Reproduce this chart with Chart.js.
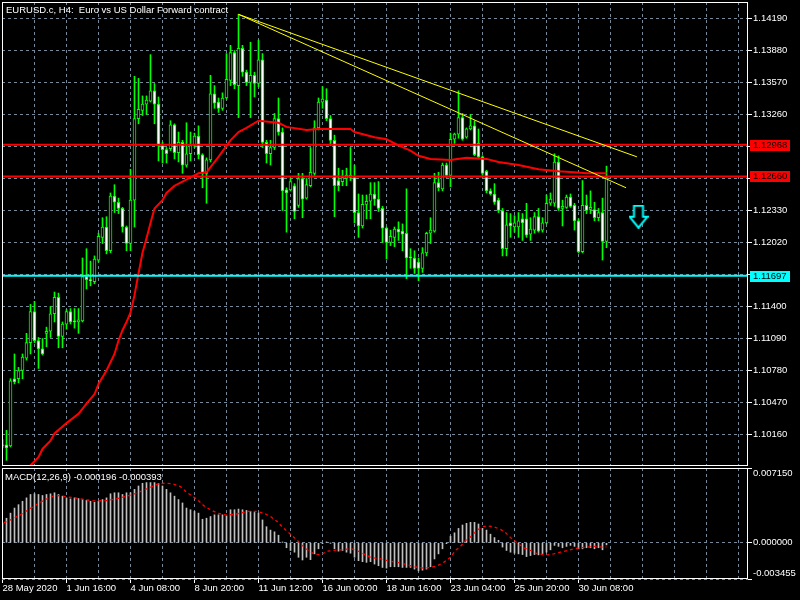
<!DOCTYPE html>
<html>
<head>
<meta charset="utf-8">
<title>EURUSD.c H4</title>
<script src="https://cdn.jsdelivr.net/npm/chart.js@4.4.1/dist/chart.umd.min.js"></script>
<style>
    html, body { margin: 0; padding: 0; background: #000; }
    #wrap { position: relative; width: 800px; height: 600px; overflow: hidden; background: #000; }
    #priceChart { position: absolute; left: 0; top: 0; }
    #macdChart { position: absolute; left: 0; top: 455px; }
    .caption { position: absolute; color: #fff; font: 9.5px "Liberation Sans", Arial, sans-serif; white-space: pre; line-height: 12px; }
</style>
</head>
<body>
<div id="wrap">
    <canvas id="priceChart" width="800" height="467"></canvas>
    <canvas id="macdChart" width="800" height="145"></canvas>
    <div class="caption" style="left:6px; top:4px;">EURUSD.c, H4:  Euro vs US Dollar Forward contract</div>
    <div class="caption" style="left:5px; top:471px;">MACD(12,26,9) -0.000196 -0.000393</div>
</div>
<script>
/* ---- price bars (H4), index 0 = 28 May 2020 00:00 ---- */
const open = [
    1.1005, 1.1006, 1.1005, 1.1070, 1.1070, 1.1078, 1.1090, 1.1105, 1.1135, 1.1107,
    1.1099, 1.1114, 1.1116, 1.1133, 1.1149, 1.1111, 1.1123, 1.1135, 1.1126, 1.1125,
    1.1126, 1.1169, 1.1166, 1.1164, 1.1185, 1.1207, 1.1217, 1.1194, 1.1247, 1.1241,
    1.1235, 1.1217, 1.1201, 1.1243, 1.1322, 1.1330, 1.1336, 1.1339, 1.1349, 1.1336,
    1.1296, 1.1292, 1.1293, 1.1316, 1.1289, 1.1299, 1.1277, 1.1288, 1.1296, 1.1305,
    1.1287, 1.1269, 1.1282, 1.1346, 1.1338, 1.1332, 1.1342, 1.1359, 1.1386, 1.1354,
    1.1390, 1.1367, 1.1357, 1.1364, 1.1356, 1.1379, 1.1299, 1.1288, 1.1294, 1.1322,
    1.1309, 1.1253, 1.1253, 1.1257, 1.1238, 1.1264, 1.1245, 1.1257, 1.1269, 1.1313,
    1.1338, 1.1340, 1.1322, 1.1301, 1.1262, 1.1261, 1.1264, 1.1267, 1.1265, 1.1231,
    1.1218, 1.1239, 1.1242, 1.1249, 1.1244, 1.1235, 1.1216, 1.1202, 1.1207, 1.1215,
    1.1213, 1.1211, 1.1188, 1.1187, 1.1183, 1.1177, 1.1192, 1.1211, 1.1213, 1.1260,
    1.1254, 1.1277, 1.1267, 1.1302, 1.1307, 1.1323, 1.1304, 1.1312, 1.1315, 1.1298,
    1.1285, 1.1271, 1.1252, 1.1249, 1.1243, 1.1233, 1.1196, 1.1221, 1.1217, 1.1217,
    1.1225, 1.1225, 1.1210, 1.1214, 1.1227, 1.1214, 1.1221, 1.1240, 1.1240, 1.1280,
    1.1235, 1.1236, 1.1246, 1.1238, 1.1223, 1.1193, 1.1238, 1.1234, 1.1234, 1.1226,
    1.1231, 1.1203
];
const high = [
    1.1011, 1.1020, 1.1070, 1.1094, 1.1081, 1.1094, 1.1114, 1.1142, 1.1145, 1.1110,
    1.1109, 1.1120, 1.1140, 1.1154, 1.1153, 1.1125, 1.1137, 1.1138, 1.1138, 1.1138,
    1.1187, 1.1196, 1.1184, 1.1189, 1.1211, 1.1226, 1.1227, 1.1250, 1.1258, 1.1245,
    1.1236, 1.1218, 1.1273, 1.1363, 1.1361, 1.1344, 1.1344, 1.1384, 1.1356, 1.1343,
    1.1299, 1.1294, 1.1320, 1.1317, 1.1309, 1.1301, 1.1318, 1.1309, 1.1308, 1.1315,
    1.1288, 1.1284, 1.1364, 1.1354, 1.1342, 1.1347, 1.1385, 1.1393, 1.1388, 1.1423,
    1.1393, 1.1369, 1.1396, 1.1367, 1.1398, 1.1385, 1.1301, 1.1301, 1.1327, 1.1342,
    1.1313, 1.1255, 1.1264, 1.1259, 1.1269, 1.1269, 1.1264, 1.1294, 1.1320, 1.1342,
    1.1353, 1.1351, 1.1325, 1.1306, 1.1274, 1.1272, 1.1274, 1.1294, 1.1277, 1.1249,
    1.1248, 1.1248, 1.1260, 1.1260, 1.1261, 1.1237, 1.1217, 1.1214, 1.1217, 1.1222,
    1.1220, 1.1254, 1.1196, 1.1194, 1.1187, 1.1197, 1.1212, 1.1226, 1.1269, 1.1270,
    1.1279, 1.1279, 1.1308, 1.1308, 1.1349, 1.1327, 1.1313, 1.1326, 1.1320, 1.1312,
    1.1286, 1.1272, 1.1254, 1.1259, 1.1245, 1.1235, 1.1231, 1.1230, 1.1228, 1.1231,
    1.1230, 1.1240, 1.1226, 1.1231, 1.1235, 1.1226, 1.1248, 1.1250, 1.1288, 1.1286,
    1.1243, 1.1248, 1.1249, 1.1240, 1.1225, 1.1262, 1.1248, 1.1252, 1.1241, 1.1235,
    1.1245, 1.1276
];
const low = [
    1.1003, 1.0991, 1.1004, 1.1065, 1.1066, 1.1070, 1.1088, 1.1094, 1.1105, 1.1080,
    1.1093, 1.1101, 1.1110, 1.1125, 1.1100, 1.1100, 1.1118, 1.1123, 1.1119, 1.1114,
    1.1125, 1.1157, 1.1160, 1.1162, 1.1183, 1.1201, 1.1191, 1.1192, 1.1231, 1.1230,
    1.1212, 1.1194, 1.1194, 1.1217, 1.1317, 1.1325, 1.1326, 1.1338, 1.1317, 1.1281,
    1.1279, 1.1279, 1.1291, 1.1283, 1.1280, 1.1269, 1.1275, 1.1281, 1.1294, 1.1283,
    1.1255, 1.1240, 1.1280, 1.1332, 1.1328, 1.1330, 1.1341, 1.1354, 1.1351, 1.1323,
    1.1363, 1.1354, 1.1323, 1.1343, 1.1353, 1.1294, 1.1279, 1.1277, 1.1292, 1.1306,
    1.1233, 1.1212, 1.1252, 1.1225, 1.1236, 1.1226, 1.1244, 1.1256, 1.1267, 1.1311,
    1.1332, 1.1320, 1.1296, 1.1227, 1.1252, 1.1257, 1.1257, 1.1262, 1.1221, 1.1207,
    1.1216, 1.1225, 1.1225, 1.1238, 1.1232, 1.1202, 1.1186, 1.1199, 1.1198, 1.1204,
    1.1194, 1.1167, 1.1177, 1.1172, 1.1165, 1.1173, 1.1189, 1.1201, 1.1212, 1.1252,
    1.1252, 1.1265, 1.1256, 1.1298, 1.1303, 1.1301, 1.1303, 1.1311, 1.1286, 1.1283,
    1.1267, 1.1250, 1.1248, 1.1239, 1.1231, 1.1189, 1.1189, 1.1207, 1.1212, 1.1207,
    1.1204, 1.1207, 1.1204, 1.1211, 1.1212, 1.1212, 1.1220, 1.1238, 1.1237, 1.1233,
    1.1218, 1.1235, 1.1236, 1.1214, 1.1192, 1.1192, 1.1230, 1.1230, 1.1223, 1.1223,
    1.1185, 1.1197
];
const close = [
    1.1006, 1.1003, 1.1068, 1.1067, 1.1078, 1.1091, 1.1105, 1.1135, 1.1107, 1.1099,
    1.1094, 1.1116, 1.1133, 1.1149, 1.1111, 1.1123, 1.1135, 1.1125, 1.1125, 1.1127,
    1.1169, 1.1166, 1.1165, 1.1186, 1.1208, 1.1217, 1.1194, 1.1247, 1.1241, 1.1235,
    1.1217, 1.1201, 1.1243, 1.1322, 1.1331, 1.1336, 1.1340, 1.1349, 1.1336, 1.1296,
    1.1292, 1.1288, 1.1316, 1.1289, 1.1299, 1.1277, 1.1288, 1.1296, 1.1305, 1.1287,
    1.1269, 1.1282, 1.1346, 1.1337, 1.1332, 1.1342, 1.1360, 1.1386, 1.1355, 1.1390,
    1.1367, 1.1357, 1.1364, 1.1356, 1.1379, 1.1299, 1.1288, 1.1294, 1.1322, 1.1309,
    1.1252, 1.1250, 1.1261, 1.1232, 1.1264, 1.1244, 1.1258, 1.1270, 1.1313, 1.1338,
    1.1341, 1.1322, 1.1301, 1.1257, 1.1257, 1.1265, 1.1267, 1.1265, 1.1231, 1.1218,
    1.1239, 1.1242, 1.1249, 1.1244, 1.1235, 1.1216, 1.1202, 1.1208, 1.1215, 1.1212,
    1.1210, 1.1187, 1.1187, 1.1177, 1.1177, 1.1192, 1.1211, 1.1214, 1.1260, 1.1255,
    1.1277, 1.1267, 1.1302, 1.1307, 1.1323, 1.1302, 1.1312, 1.1315, 1.1287, 1.1285,
    1.1269, 1.1252, 1.1249, 1.1241, 1.1233, 1.1196, 1.1219, 1.1218, 1.1221, 1.1223,
    1.1221, 1.1209, 1.1215, 1.1227, 1.1213, 1.1221, 1.1240, 1.1244, 1.1280, 1.1235,
    1.1237, 1.1246, 1.1237, 1.1223, 1.1193, 1.1238, 1.1233, 1.1236, 1.1226, 1.1231,
    1.1203, 1.1265
];

// red moving average at these bar indices
const maIdx = [5, 7, 9, 10, 12, 13, 16, 19, 21, 23, 24, 26, 28, 29, 30, 31, 32, 33, 34, 35,
    36, 37, 38, 40, 41, 43, 45, 47, 49, 51, 52, 54, 57, 59, 61, 64, 69, 71, 76, 79,
    87, 88, 93, 96, 99, 102, 104, 107, 112, 116, 121, 124, 129, 134, 139, 143, 146, 151];
const maVal = [1.0973, 1.0986, 1.0994, 1.1002, 1.1010, 1.1017, 1.1027, 1.1036, 1.1046, 1.1055,
    1.1065, 1.1078, 1.1094, 1.1107, 1.1117, 1.1125, 1.1134, 1.1151, 1.1172, 1.1192,
    1.1206, 1.1221, 1.1235, 1.1243, 1.1250, 1.1257, 1.1261, 1.1265, 1.1269, 1.1270,
    1.1275, 1.1285, 1.1301, 1.1309, 1.1313, 1.1320, 1.1318, 1.1314, 1.1311, 1.1312,
    1.1312, 1.1309, 1.1304, 1.1302, 1.1296, 1.1291, 1.1286, 1.1283, 1.1282, 1.1284,
    1.1283, 1.1280, 1.1277, 1.1273, 1.1271, 1.1270, 1.1269, 1.1269];

// horizontal levels and their colours
const levelPrices = [1.12968, 1.12660, 1.11697];
const levelColors = ["#ff0000", "#ff0000", "#00ffff"];

// yellow trend lines: [startIdx, endIdx] / [startPrice, endPrice]
const trendIdx = [[59, 158.6], [59, 155.9]];
const trendVal = [[1.1423, 1.1285], [1.1423, 1.1255]];

// down arrow object
const arrowIdx = 159;
const arrowPrice = 1.1227;

// price axis ticks
const priceTicks = [1.14190, 1.13880, 1.13570, 1.13260, 1.12950, 1.12640, 1.12330,
    1.12020, 1.11710, 1.11400, 1.11090, 1.10780, 1.10470, 1.10160];

/* ---- MACD(12,26,9) ---- */
const macdHist = [
    0.001865, 0.002351, 0.002838, 0.003324, 0.003648, 0.003973, 0.004297, 0.004621, 0.004686, 0.004621,
    0.004524, 0.004621, 0.004686, 0.004783, 0.004621, 0.004459, 0.004297, 0.004200, 0.004297, 0.004232,
    0.004135, 0.004070, 0.003973, 0.003875, 0.003973, 0.004135, 0.004297, 0.004686, 0.004783, 0.004783,
    0.004621, 0.004783, 0.004783, 0.005108, 0.005432, 0.005691, 0.005756, 0.005756, 0.005756, 0.005659,
    0.005432, 0.005108, 0.004783, 0.004459, 0.004135, 0.003811, 0.003324, 0.003162, 0.003000, 0.002838,
    0.002254, 0.002351, 0.002513, 0.002675, 0.002675, 0.002675, 0.002578, 0.003162, 0.003162, 0.003227,
    0.003162, 0.003097, 0.003000, 0.002902, 0.002838, 0.002189, 0.001540, 0.001216, 0.001054, 0.000730,
    0.000081, -0.000470, -0.000730, -0.000892, -0.001378, -0.001638, -0.001378, -0.001605, -0.001054, -0.000568,
    -0.000081, 0.000081, -0.000016, -0.000568, -0.000795, -0.000730, -0.000892, -0.000989, -0.001378, -0.001703,
    -0.001800, -0.001865, -0.001800, -0.002027, -0.002189, -0.002351, -0.002416, -0.002286, -0.002286, -0.002286,
    -0.002351, -0.002351, -0.002351, -0.002513, -0.002675, -0.002611, -0.002513, -0.002286, -0.001540, -0.001054,
    -0.000568, -0.000081, 0.000632, 0.000957, 0.001378, 0.001703, 0.001865, 0.001962, 0.001962, 0.001800,
    0.001378, 0.001216, 0.000827, 0.000503, 0.000243, -0.000405, -0.000730, -0.000892, -0.000989, -0.001054,
    -0.001119, -0.001313, -0.001216, -0.001119, -0.001151, -0.001054, -0.000892, -0.000665, -0.000243, -0.000340,
    -0.000470, -0.000340, -0.000243, -0.000340, -0.000568, -0.000568, -0.000470, -0.000470, -0.000568, -0.000470,
    -0.000665, -0.000196
];
const sigIdx = [0.3, 2, 4.5, 6.2, 7.8, 9.5, 12, 13.7, 16.2, 19.5, 22.8, 26.2, 28.7, 31.2, 33.7, 36.2, 38.7, 40.3, 42.4, 44.5,
    46.2, 48.7, 50.3, 52, 53.7, 56.2, 58.7, 61.2, 63.7, 65.3, 67, 68.7, 70.3, 72, 73.7, 74.9, 76.2, 77.8, 79.5, 81.2,
    82.8, 84.5, 87, 88.2, 90.3, 92, 94.5, 96.2, 98.7, 101.2, 102.8, 105.3, 107, 108.7, 110.3, 112, 113.2, 114.5, 115.8, 117,
    118.7, 119.9, 121.2, 122.8, 124.5, 125.8, 127, 128.7, 130.3, 132, 133.7, 136.2, 137.8, 139.5, 141.2, 142.8, 144.5, 146.2, 147.8, 149.9,
    151];
const sigVal = [0.00193, 0.002189, 0.002676, 0.003097, 0.003486, 0.003876, 0.004395, 0.004524, 0.004395, 0.0042,
    0.004005, 0.004038, 0.004232, 0.004459, 0.004784, 0.005173, 0.005595, 0.005692, 0.005659, 0.005368,
    0.004784, 0.004135, 0.003551, 0.003162, 0.002838, 0.002643, 0.002773, 0.003, 0.003, 0.002838,
    0.002513, 0.002027, 0.001378, 0.000827, 0.000243, -0.000243, -0.000665, -0.001054, -0.001151, -0.000795,
    -0.00073, -0.000665, -0.000568, -0.000665, -0.001054, -0.001378, -0.00154, -0.001703, -0.001865, -0.002092,
    -0.002286, -0.002416, -0.002351, -0.002189, -0.001865, -0.001378, -0.00073, -0.00034, 0.000243, 0.000568,
    0.001216, 0.00154, 0.001605, 0.00154, 0.001281, 0.000957, 0.000503, -0.000016, -0.00047, -0.00073,
    -0.001054, -0.001151, -0.001054, -0.000892, -0.00073, -0.000568, -0.00047, -0.000405, -0.00034, -0.000405,
    -0.000393];
const macdTicks = [-0.003455, 0, 0.00715];

/* ---- time axis ---- */
const xLabelIdx = [0, 16, 32, 48, 64, 80, 96, 112, 128, 144];
const xLabels = ["28 May 2020", "1 Jun 16:00", "4 Jun 08:00", "8 Jun 20:00", "11 Jun 12:00",
    "16 Jun 00:00", "18 Jun 16:00", "23 Jun 04:00", "25 Jun 20:00", "30 Jun 08:00"];
const xGridIdx = [0, 8, 16, 24, 32, 40, 48, 56, 64, 72, 80, 88, 96, 104, 112, 120, 128, 136,
    144, 152, 160, 168, 176, 184];

const X_MIN = -0.125;
const X_MAX = 186.375;
const GRID = "#778899";
const FONT = { family: '"Liberation Sans", Arial, sans-serif', size: 9.5 };

Chart.defaults.font.family = FONT.family;
Chart.defaults.font.size = FONT.size;
Chart.defaults.color = "#ffffff";

const barIdx = open.map((_, i) => i);

function makeArrow() {
    const c = document.createElement("canvas");
    c.width = 20;
    c.height = 24;
    const g = c.getContext("2d");
    g.beginPath();
    g.moveTo(5.5, 1);
    g.lineTo(14.5, 1);
    g.lineTo(14.5, 12);
    g.lineTo(19, 12);
    g.lineTo(10, 23);
    g.lineTo(1, 12);
    g.lineTo(5.5, 12);
    g.closePath();
    g.fillStyle = "#000000";
    g.fill();
    g.strokeStyle = "#00ffff";
    g.lineWidth = 2;
    g.stroke();
    return c;
}

// white frame round each plot area
const framePlugin = {
    id: "frame",
    afterDraw(chart) {
        const { ctx, chartArea: a } = chart;
        ctx.save();
        ctx.strokeStyle = "#ffffff";
        ctx.lineWidth = 1;
        ctx.strokeRect(a.left + 0.5, a.top + 0.5, a.right - a.left - 1, a.bottom - a.top - 1);
        ctx.restore();
    }
};

// coloured price tags for the horizontal levels
const levelTagPlugin = {
    id: "levelTags",
    afterDraw(chart) {
        const { ctx, chartArea: a } = chart;
        const y = chart.scales.y;
        ctx.save();
        ctx.font = `${FONT.size}px ${FONT.family}`;
        ctx.textBaseline = "middle";
        ctx.textAlign = "left";
        levelPrices.forEach((p, i) => {
            const py = Math.round(y.getPixelForValue(p));
            ctx.fillStyle = levelColors[i];
            ctx.fillRect(a.right + 2, py - 5, 40, 11);
            ctx.fillStyle = "#000000";
            ctx.fillText(p.toFixed(5), a.right + 5, py + 0.5);
        });
        ctx.restore();
    }
};

function xScale(showLabels) {
    return {
        type: "linear",
        min: X_MIN,
        max: X_MAX,
        offset: false,
        afterBuildTicks: (s) => { s.ticks = xGridIdx.map((v) => ({ value: v })); },
        afterFit: (s) => {
            s.height = showLabels ? 21 : 0;
            s.paddingLeft = 0;
            s.paddingRight = 0;
        },
        border: { display: false, dash: [3, 3] },
        grid: {
            color: GRID,
            offset: false,
            drawTicks: showLabels,
            tickLength: 4,
            tickBorderDash: [1, 0],
            tickColor: (ctx) => (ctx.tick && xLabelIdx.includes(ctx.tick.value) ? "#ffffff" : "rgba(0,0,0,0)")
        },
        ticks: {
            display: showLabels,
            autoSkip: false,
            maxRotation: 0,
            minRotation: 0,
            align: "start",
            padding: 0,
            color: "#ffffff",
            callback: (v) => {
                const i = xLabelIdx.indexOf(v);
                return i >= 0 ? xLabels[i] : "";
            }
        }
    };
}

// edge labels are nudged inside the panel, like the terminal does
function yScale(min, max, ticks, digits, tuckEdges) {
    return {
        position: "right",
        min,
        max,
        afterBuildTicks: (s) => { s.ticks = ticks.map((v) => ({ value: v })); },
        afterFit: (s) => {
            s.width = 52;
            s.paddingTop = 0;
            s.paddingBottom = 0;
        },
        border: { display: false, dash: [3, 3] },
        grid: {
            color: GRID,
            tickLength: 4,
            tickColor: "#ffffff",
            tickBorderDash: [1, 0]
        },
        ticks: {
            padding: 1,
            color: "#ffffff",
            callback: (v) => {
                const text = Number(v).toFixed(digits);
                if (tuckEdges && v === max) return ["", text];
                if (tuckEdges && v === min) return [text, ""];
                return text;
            }
        }
    };
}

const lineDefaults = { type: "line", pointRadius: 0, tension: 0, fill: false };

new Chart(document.getElementById("priceChart"), {
    type: "bar",
    data: {
        datasets: [
            {
                label: "wicks",
                data: barIdx.map((i) => ({ x: i, y: [low[i], high[i]] })),
                backgroundColor: "#00ff00",
                barThickness: 1,
                grouped: false,
                order: 10
            },
            {
                label: "bodies",
                data: barIdx.map((i) => ({ x: i, y: [open[i], close[i]] })),
                backgroundColor: barIdx.map((i) => (close[i] < open[i] ? "#ffffff" : "#000000")),
                borderColor: "#00ff00",
                borderWidth: 1,
                borderSkipped: false,
                barThickness: 3,
                minBarLength: 1,
                grouped: false,
                order: 9
            },
            {
                ...lineDefaults,
                label: "MA",
                data: maIdx.map((x, i) => ({ x, y: maVal[i] })),
                borderColor: "#ff0000",
                borderWidth: 2,
                order: 5
            },
            ...levelPrices.map((p, i) => ({
                ...lineDefaults,
                label: "level " + p,
                data: [{ x: X_MIN, y: p }, { x: X_MAX, y: p }],
                borderColor: levelColors[i],
                borderWidth: 2,
                order: 3
            })),
            ...trendIdx.map((xs, i) => ({
                ...lineDefaults,
                label: "trend " + i,
                data: xs.map((x, j) => ({ x, y: trendVal[i][j] })),
                borderColor: "#ffff00",
                borderWidth: 1,
                order: 2
            })),
            {
                type: "scatter",
                label: "arrow",
                data: [{ x: arrowIdx, y: arrowPrice }],
                pointStyle: makeArrow(),
                order: 1
            }
        ]
    },
    options: {
        responsive: false,
        animation: false,
        events: [],
        layout: { autoPadding: false, padding: { top: 2, left: 2, right: 0, bottom: 1 } },
        plugins: { legend: { display: false }, tooltip: { enabled: false } },
        scales: {
            x: xScale(false),
            y: yScale(1.0985484, 1.1434984, priceTicks, 5, false)
        }
    },
    plugins: [framePlugin, levelTagPlugin]
});

new Chart(document.getElementById("macdChart"), {
    type: "bar",
    data: {
        datasets: [
            {
                label: "MACD",
                data: barIdx.map((i) => ({ x: i, y: macdHist[i] })),
                backgroundColor: "#c0c0c0",
                barThickness: 1,
                grouped: false,
                order: 2
            },
            {
                ...lineDefaults,
                label: "Signal",
                data: sigIdx.map((x, i) => ({ x, y: sigVal[i] })),
                borderColor: "#ff0000",
                borderWidth: 1.3,
                borderDash: [3, 3],
                order: 1
            }
        ]
    },
    options: {
        responsive: false,
        animation: false,
        events: [],
        layout: { autoPadding: false, padding: { top: 13, left: 2, right: 0, bottom: 0 } },
        plugins: { legend: { display: false }, tooltip: { enabled: false } },
        scales: {
            x: xScale(true),
            y: yScale(-0.003455, 0.00715, macdTicks, 6, true)
        }
    },
    plugins: [framePlugin]
});
</script>
</body>
</html>
